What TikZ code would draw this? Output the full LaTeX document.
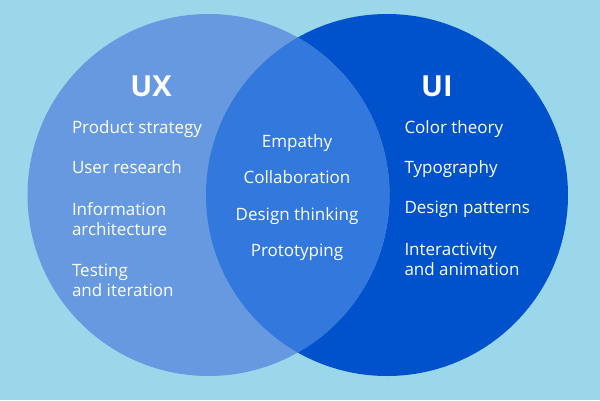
\documentclass[tikz,border=0pt]{standalone}
\usepackage{fontspec}
\setmainfont{Open Sans}
\begin{document}
\begin{tikzpicture}[x=1pt,y=-1pt, item/.style={
                text=white,
                inner sep=0pt,
                outer sep=0pt,
                align=left,
                font=\fontsize{17}{20}\selectfont
              }, title/.style={
                text=white,
                inner sep=0pt,
                font=\fontsize{29}{32}\selectfont\bfseries
              }]
            % Define colors
            \definecolor{bgcolor}{RGB}{154, 215, 234}
            \definecolor{uxcolor}{RGB}{103, 153, 224}
            \definecolor{uicolor}{RGB}{0, 82, 204}
            \definecolor{bothcolor}{RGB}{51, 120, 220}

        \fill[bgcolor] (0,0) rectangle (600,400);
        \useasboundingbox (0,0) rectangle (600,400);

        \begin{scope}
            \fill[uicolor] (387,195) circle[radius=181];
            \fill[uxcolor] (208.5,195) circle[radius=181];
            \begin{scope}
                \clip (387,195) circle[radius=181];
                \fill[bothcolor] (208.5,195) circle[radius=181];
            \end{scope}
        \end{scope}

        % UX side
        \node[title, anchor=base] (ux) at (151,96) {UX};
        \node[item, anchor=base west] (strategy) at (72,133) {Product strategy};
        \node[item, anchor=base west] (research) at (72,173.5) {User research};
        \node[item, anchor=base west] (info) at (72,235) {Information\\architecture};
        \node[item, anchor=base west] (testing) at (72,296) {Testing\\and iteration};

        % shared
        \node[item, anchor=base] (empathy) at (297,147) {Empathy};
        \node[item, anchor=base] (collab) at (297,183.5) {Collaboration};
        \node[item, anchor=base] (thinking) at (297,220) {Design thinking};
        \node[item, anchor=base] (proto) at (297,256.5) {Prototyping};

        % UI side
        \node[title, anchor=base] (ui) at (437,96) {UI};
        \node[item, anchor=base west] (color) at (404.5,133) {Color theory};
        \node[item, anchor=base west] (typo) at (404.5,173) {Typography};
        \node[item, anchor=base west] (patterns) at (404.5,213.5) {Design patterns};
        \node[item, anchor=base west] (interact) at (404.5,275) {Interactivity\\and animation};

        \end{tikzpicture}
\end{document}
